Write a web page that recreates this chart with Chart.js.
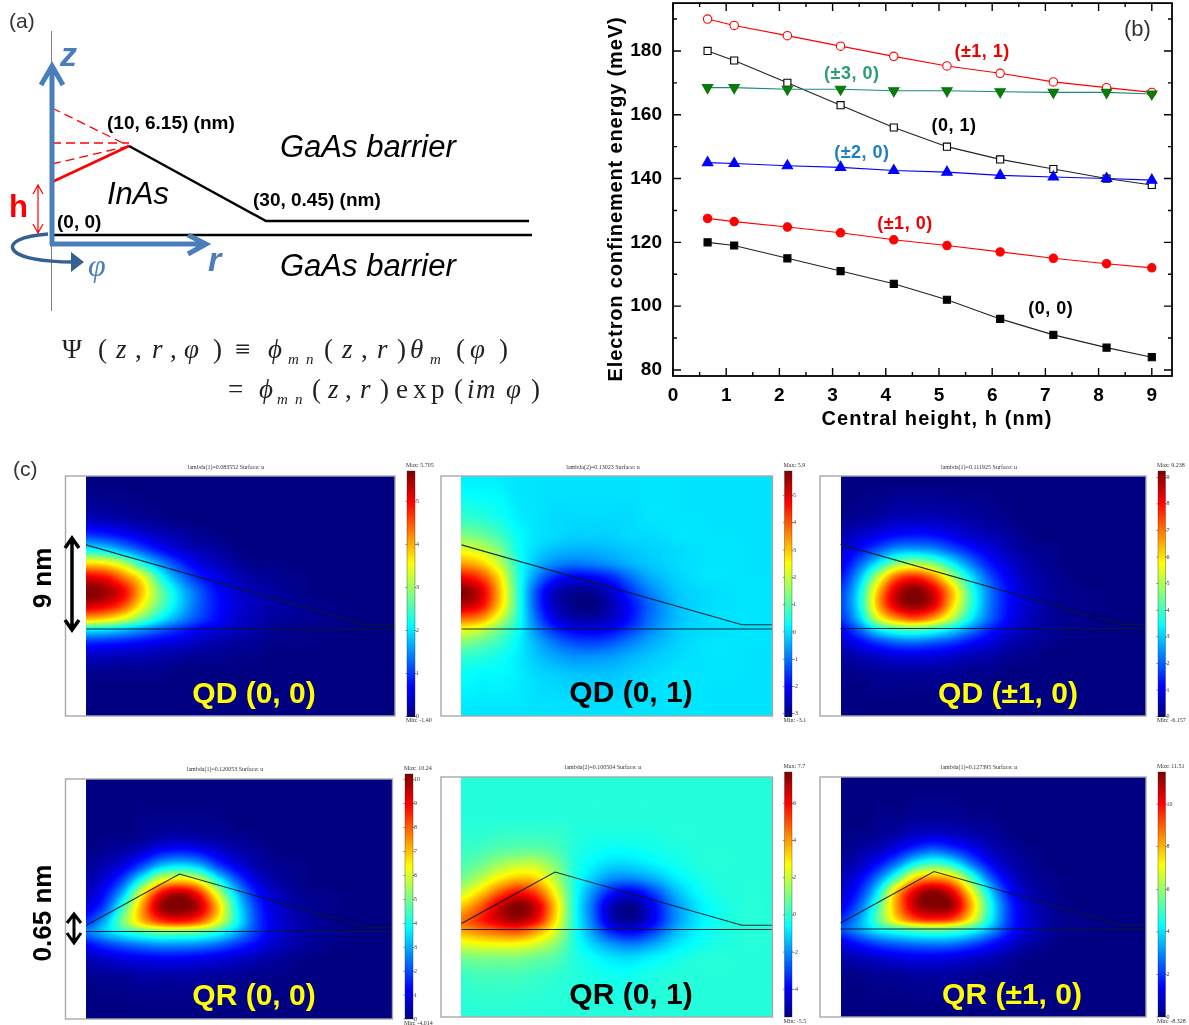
<!DOCTYPE html>
<html>
<head>
<meta charset="utf-8">
<title>Electron confinement energy</title>
<script src="https://cdn.jsdelivr.net/npm/chart.js@4"></script>
<style>
  html, body { margin: 0; padding: 0; background: #fff; }
  #page { position: relative; width: 1189px; height: 1025px; overflow: hidden; }
  canvas { position: absolute; }
  svg { position: absolute; left: 0; top: 0; }
</style>
</head>
<body>
<div id="page">
  <canvas id="energyChart" width="589" height="439" style="left:600px;top:-4px"></canvas>
  <svg width="1189" height="1025" font-family="'Liberation Sans', Arial, sans-serif">
    <text x="9" y="28" font-size="21" fill="#333">(a)</text>
    <line x1="51.5" y1="31" x2="51.5" y2="311" stroke="#808080" stroke-width="1"/>
    <path d="M53 235 H532 M129 146 L266 221 H529" fill="none" stroke="#000" stroke-width="2.4"/>
    <line x1="52" y1="182" x2="129" y2="146" stroke="#f00" stroke-width="2.6"/>
    <path d="M52 108 L129 146 M52 143 H129 M52 164 L129 146" fill="none" stroke="#f00" stroke-width="1.3" stroke-dasharray="9 5"/>
    <path d="M38 185 V233 M33 194 L38 185 L43 194 M33 224 L38 233 L43 224" fill="none" stroke="#f00" stroke-width="1.2"/>
    <path d="M52 245 V68 M41 85 L52 66 L63 85" fill="none" stroke="#4a7ebb" stroke-width="5"/>
    <path d="M50 244 H204 M188 235 L206 244 L188 254" fill="none" stroke="#4a7ebb" stroke-width="5"/>
    <path d="M48 234 C20 236 10 243 13 249 C17 258 45 262 73 262" fill="none" stroke="#366092" stroke-width="3.5"/>
    <path d="M71 252 L84 262 L71 272 Z" fill="#366092"/>
    <text x="60" y="66" font-size="34" font-weight="bold" font-style="italic" fill="#4a7ebb">z</text>
    <text x="208" y="271" font-size="34" font-weight="bold" font-style="italic" fill="#4a7ebb">r</text>
    <text x="88" y="276" font-size="32" font-style="italic" font-family="'Liberation Serif', serif" fill="#4a7ebb">&#966;</text>
    <text x="9" y="217" font-size="31" font-weight="bold" fill="#f00">h</text>
    <text x="57" y="228" font-size="19" font-weight="bold">(0, 0)</text>
    <text x="107" y="129" font-size="19" font-weight="bold">(10, 6.15) (nm)</text>
    <text x="253" y="206" font-size="19" font-weight="bold">(30, 0.45) (nm)</text>
    <text x="280" y="157" font-size="31" font-style="italic">GaAs barrier</text>
    <text x="280" y="276" font-size="31" font-style="italic">GaAs barrier</text>
    <text x="107" y="204" font-size="31" font-style="italic">InAs</text>
    <g id="equation" font-family="'Liberation Serif', serif" fill="#222"></g>
    <text x="13" y="476" font-size="21" fill="#333">(c)</text>
  </svg>
</div>

<script>
// panel (b): series
const heights = [0.65, 1.15, 2.15, 3.15, 4.15, 5.15, 6.15, 7.15, 8.15, 9];
const energyPm1n1 = [190, 188, 184.8, 181.5, 178.3, 175.3, 173, 170.3, 168.5, 167];
const energy0n1 = [180, 177, 170, 163, 156, 150, 146, 143, 140, 138];
const energyPm3n0 = [168.5, 168.5, 168, 168, 167.5, 167.5, 167.2, 167, 167, 166.5];
const energyPm2n0 = [145, 144.7, 144, 143.5, 142.5, 142, 141, 140.5, 140, 139.5];
const energyPm1n0 = [127.5, 126.5, 124.8, 123, 120.8, 119, 117, 115, 113.3, 112];
const energy0n0 = [120, 119, 115, 111, 107, 102, 96, 91, 87, 84];

const xTicks = [0, 1, 2, 3, 4, 5, 6, 7, 8, 9];
const xMinorTicks = [0.5, 1.5, 2.5, 3.5, 4.5, 5.5, 6.5, 7.5, 8.5];
const yTicks = [80, 100, 120, 140, 160, 180];
const yMinorTicks = [90, 110, 130, 150, 170, 190];

const curveNames = ['(\u00b11, 1)', '(\u00b13, 0)', '(0, 1)', '(\u00b12, 0)', '(\u00b11, 0)', '(0, 0)', '(b)'];
const curveNameX = [5.81, 3.36, 5.28, 3.55, 4.36, 7.1, 8.73];
const curveNameY = [179.6, 172.7, 156.5, 148, 125.8, 99, 186.5];
const curveNameColors = ['#f00000', '#2e9e72', '#000', '#1f7fc0', '#f00000', '#000', '#333'];
const xTitle = 'Central height, h (nm)';
const yTitle = 'Electron confinement energy (meV)';

// panel (c): wavefunction maps, values read as percent of each colour bar.
// columns are r in nm, rows are z in nm
const gridR = [0, 2, 4, 6, 8, 10, 12, 14, 16, 18, 20, 23, 26, 30, 33];
const gridZ = [16, 12, 10, 8.5, 7, 5.5, 4, 2.5, 1, 0, -1.5, -3, -5, -9.5];

const mapQD00 = [
  [0,0,0,0,0,0,0,0,0,0,0,0,0,0,0],
  [5,4,3,2,1,0,0,0,0,0,0,0,0,0,0],
  [18,16,13,9,6,4,2,1,0,0,0,0,0,0,0],
  [38,35,28,20,13,8,5,3,1,0,0,0,0,0,0],
  [66,64,56,40,27,17,10,6,3,1,1,0,0,0,0],
  [90,87,76,62,40,26,16,10,6,3,2,1,0,0,0],
  [100,97,88,68,48,33,22,13,8,5,3,1,0,0,0],
  [92,89,80,62,46,33,22,14,9,6,4,2,1,0,0],
  [68,65,58,47,36,27,19,13,8,5,3,2,1,0,0],
  [38,37,33,28,22,17,12,9,6,4,2,1,1,0,0],
  [16,15,14,12,10,8,6,4,3,2,1,1,0,0,0],
  [6,6,5,5,4,3,2,2,1,1,0,0,0,0,0],
  [1,1,1,1,1,0,0,0,0,0,0,0,0,0,0],
  [0,0,0,0,0,0,0,0,0,0,0,0,0,0,0]
];
const mapQD01 = [
  [36,36,36,35,35,35,35,35,35,35,35,35,35,35,35],
  [42,41,39,36,35,34,34,34,34,34,35,35,35,35,35],
  [50,48,44,38,35,34,33,33,33,34,34,35,35,35,35],
  [60,57,50,39,34,31,30,30,31,32,33,34,35,35,35],
  [72,68,57,41,31,26,24,25,27,30,32,34,35,35,35],
  [88,82,66,42,26,15,11,12,16,23,29,33,35,35,35],
  [100,92,70,43,20,6,2,2,8,17,25,32,34,35,35],
  [94,88,68,43,20,6,1,0,5,13,22,31,34,35,35],
  [76,72,58,41,23,10,5,4,7,14,23,31,34,35,35],
  [62,58,49,39,26,16,11,10,12,18,25,32,34,35,35],
  [50,47,43,37,30,24,20,19,21,25,29,33,35,35,35],
  [42,41,39,36,32,29,27,27,28,30,32,34,35,35,35],
  [38,37,37,36,34,33,32,32,32,33,34,35,35,35,35],
  [35,35,35,35,35,35,35,35,35,35,35,35,35,35,35]
];
const mapQDPm10 = [
  [0,0,0,0,0,0,0,0,0,0,0,0,0,0,0],
  [1,2,3,5,5,5,4,3,2,1,0,0,0,0,0],
  [4,7,10,13,14,13,10,7,5,3,1,0,0,0,0],
  [7,13,20,27,28,26,20,14,9,5,2,1,0,0,0],
  [10,21,36,50,54,48,36,24,14,8,4,1,0,0,0],
  [14,30,56,78,84,74,54,35,20,11,5,2,0,0,0],
  [18,36,68,92,100,90,68,42,24,13,6,2,1,0,0],
  [19,37,70,92,98,90,66,42,24,13,7,2,1,0,0],
  [17,32,58,72,78,70,54,36,22,12,6,2,1,0,0],
  [12,23,38,46,48,44,36,26,16,9,5,2,1,0,0],
  [7,12,18,22,23,21,18,13,9,5,3,1,0,0,0],
  [3,5,7,9,9,9,7,5,4,2,1,0,0,0,0],
  [1,1,2,2,2,2,2,1,1,0,0,0,0,0,0],
  [0,0,0,0,0,0,0,0,0,0,0,0,0,0,0]
];
const mapQR00 = [
  [0,0,0,0,0,0,0,0,0,0,0,0,0,0,0],
  [0,0,0,1,1,1,1,1,0,0,0,0,0,0,0],
  [0,1,1,2,4,5,4,3,2,1,0,0,0,0,0],
  [1,2,4,8,14,16,14,9,5,3,1,0,0,0,0],
  [2,5,10,20,32,36,32,20,11,5,2,1,0,0,0],
  [4,9,20,40,60,66,60,40,22,10,4,1,0,0,0],
  [6,14,32,62,88,96,86,60,34,16,7,2,1,0,0],
  [10,20,44,72,96,100,94,70,40,20,9,3,1,0,0],
  [17,30,50,68,80,84,78,62,40,21,10,4,1,0,0],
  [24,32,40,46,50,50,48,42,31,19,10,4,2,0,0],
  [12,17,21,24,26,26,25,22,17,12,7,3,1,0,0],
  [5,7,9,10,11,11,10,9,7,5,3,1,0,0,0],
  [1,2,2,3,3,3,3,2,2,1,1,0,0,0,0],
  [0,0,0,0,0,0,0,0,0,0,0,0,0,0,0]
];
const mapQR01 = [
  [41,41,41,41,41,41,41,41,41,41,41,41,41,41,41],
  [41,41,41,41,41,41,41,41,41,41,41,41,41,41,41],
  [42,42,43,43,43,43,41,40,40,40,40,41,41,41,41],
  [43,44,46,47,47,45,41,39,38,38,39,40,41,41,41],
  [45,48,53,56,56,50,41,37,34,34,36,39,41,41,41],
  [49,55,63,68,66,55,41,33,27,26,29,36,40,41,41],
  [57,66,78,86,80,62,41,27,15,11,17,31,39,41,41],
  [68,78,92,100,92,68,41,23,6,1,9,27,37,41,41],
  [76,84,92,96,88,66,41,24,7,2,9,27,37,41,41],
  [72,76,80,82,74,60,41,27,14,10,15,30,38,41,41],
  [60,62,63,63,59,52,41,33,27,24,27,35,39,41,41],
  [49,50,50,50,48,46,41,38,35,34,36,39,41,41,41],
  [43,44,44,44,43,42,41,40,39,39,40,41,41,41,41],
  [41,41,41,41,41,41,41,41,41,41,41,41,41,41,41]
];
const mapQRPm10 = [
  [0,0,0,0,0,0,0,0,0,0,0,0,0,0,0],
  [0,0,1,1,2,2,2,1,1,0,0,0,0,0,0],
  [1,1,2,4,7,8,7,5,3,1,0,0,0,0,0],
  [1,3,6,11,18,22,18,12,6,3,1,0,0,0,0],
  [3,6,13,24,38,44,38,24,12,5,2,0,0,0,0],
  [5,11,24,44,66,72,66,44,22,9,3,1,0,0,0],
  [7,16,36,68,90,98,88,62,34,14,5,1,0,0,0],
  [10,22,44,72,94,100,96,70,40,18,7,2,0,0,0],
  [16,28,46,66,80,84,80,62,38,18,8,2,1,0,0],
  [20,28,38,44,48,50,48,42,30,16,8,2,1,0,0],
  [10,15,20,23,25,26,25,21,15,9,4,1,0,0,0],
  [4,6,8,10,11,11,10,8,6,3,1,0,0,0,0],
  [1,1,2,2,3,3,3,2,1,1,0,0,0,0,0],
  [0,0,0,0,0,0,0,0,0,0,0,0,0,0,0]
];

// dot and ring outlines in nm
const dotR = [0, 30, 36];
const dotZ = [9, 0.45, 0.45];
const ringR = [0, 10, 30, 36];
const ringZ = [0.65, 6.15, 0.45, 0.45];
const baseR = [0, 36];
const baseZ = [0, 0];

const mapTitles = ['QD (0, 0)', 'QD (0, 1)', 'QD (\u00b11, 0)', 'QR (0, 0)', 'QR (0, 1)', 'QR (\u00b11, 0)'];
const mapCaptions = ['lambda(1)=0.083552 Surface: u', 'lambda(2)=0.13023 Surface: u', 'lambda(1)=0.111925 Surface: u',
  'lambda(1)=0.120053 Surface: u', 'lambda(2)=0.100504 Surface: u', 'lambda(1)=0.127395 Surface: u'];
const barLow = [0, -3.1, 0, 0, -5.5, 0];
const barHigh = [5.7, 5.9, 9.238, 10.24, 7.7, 11.51];
const barTicks = [
  [0, 1, 2, 3, 4, 5],
  [-3, -2, -1, 0, 1, 2, 3, 4, 5],
  [0, 1, 2, 3, 4, 5, 6, 7, 8, 9],
  [0, 1, 2, 3, 4, 5, 6, 7, 8, 9, 10],
  [-4, -2, 0, 2, 4, 6],
  [0, 2, 4, 6, 8, 10]
];
const barMaxText = ['Max: 5.705', 'Max: 5.9', 'Max: 9.238', 'Max: 10.24', 'Max: 7.7', 'Max: 11.51'];
const barMinText = ['Min: -1.40', 'Min: -3.1', 'Min: -6.157', 'Min: -4.014', 'Min: -5.5', 'Min: -8.328'];
const maps = [mapQD00, mapQD01, mapQDPm10, mapQR00, mapQR01, mapQRPm10];

// page layout of the six maps (pixels)
const pxPerNm = 9.35;
const mapBoxes = [
  { strip: 65.5, left: 86, right: 395, top: 476, bottom: 716, line: 629, barL: 407, barR: 415, barT: 471, barB: 716.5, capX: 226, capY: 467, titleX: 254, titleY: 703, titleColor: '#ffff00' },
  { strip: 441, left: 461.5, right: 772.5, top: 476, bottom: 716, line: 629, barL: 784.5, barR: 792, barT: 471, barB: 716.5, capX: 603, capY: 467, titleX: 631, titleY: 702, titleColor: '#000' },
  { strip: 820, left: 840.5, right: 1146, top: 476, bottom: 716, line: 628.5, barL: 1158, barR: 1165.5, barT: 471, barB: 716.5, capX: 979, capY: 467, titleX: 1008, titleY: 703, titleColor: '#ffff00' },
  { strip: 65.5, left: 86, right: 392.5, top: 779, bottom: 1019, line: 931.5, barL: 405, barR: 413, barT: 774, barB: 1019, capX: 225, capY: 769, titleX: 254, titleY: 1005, titleColor: '#ffff00' },
  { strip: 441, left: 461.5, right: 772.5, top: 777, bottom: 1017, line: 929.5, barL: 784.5, barR: 792, barT: 772, barB: 1017, capX: 603, capY: 767, titleX: 631, titleY: 1004, titleColor: '#000' },
  { strip: 820, left: 840.5, right: 1146, top: 777, bottom: 1017, line: 929, barL: 1158, barR: 1165.5, barT: 772, barB: 1017, capX: 979, capY: 767, titleX: 1012, titleY: 1004, titleColor: '#ffff00' }
];

// equation glyphs: text, x, baseline, size, italic
const eqGlyphs = [
  ['\u03a8', 62, 358, 27, 0], ['(', 98, 358, 27, 0], ['z', 116, 358, 27, 1], [',', 135, 358, 27, 0], ['r', 152, 358, 27, 1],
  [',', 170, 358, 27, 0], ['\u03c6', 184, 358, 27, 1], [')', 213, 358, 27, 0], ['\u2261', 235, 358, 27, 0], ['\u03d5', 268, 358, 27, 1],
  ['m', 288, 364, 15, 1], ['n', 306, 364, 15, 1], ['(', 324, 358, 27, 0], ['z', 342, 358, 27, 1], [',', 361, 358, 27, 0],
  ['r', 377, 358, 27, 1], [')', 397, 358, 27, 0], ['\u03b8', 410, 358, 27, 1], ['m', 430, 364, 15, 1], ['(', 456, 358, 27, 0],
  ['\u03c6', 470, 358, 27, 1], [')', 499, 358, 27, 0],
  ['=', 228, 398, 27, 0], ['\u03d5', 259, 398, 27, 1], ['m', 277, 404, 15, 1], ['n', 295, 404, 15, 1], ['(', 312, 398, 27, 0],
  ['z', 328, 398, 27, 1], [',', 345, 398, 27, 0], ['r', 360, 398, 27, 1], [')', 380, 398, 27, 0], ['e', 396, 398, 27, 0],
  ['x', 413, 398, 27, 0], ['p', 431, 398, 27, 0], ['(', 454, 398, 27, 0], ['i', 467, 398, 27, 1], ['m', 476, 398, 27, 1],
  ['\u03c6', 506, 398, 27, 1], [')', 531, 398, 27, 0]
];

const svgNS = 'http://www.w3.org/2000/svg';
function addSvg(parent, tag, attrs, text) {
  const el = document.createElementNS(svgNS, tag);
  Object.keys(attrs).forEach(k => el.setAttribute(k, attrs[k]));
  if (text) el.textContent = text;
  parent.appendChild(el);
  return el;
}

const eqGroup = document.getElementById('equation');
eqGlyphs.forEach(g => {
  addSvg(eqGroup, 'text', { x: g[1], y: g[2], 'font-size': g[3], 'font-style': g[4] ? 'italic' : 'normal' }, g[0]);
});

// ---- panel (b) ----
const sansFont = '"Liberation Sans", Arial, sans-serif';
const curveLabels = {
  id: 'curveLabels',
  afterDraw(chart) {
    const { ctx, scales: { x, y }, chartArea: a } = chart;
    ctx.save();
    ctx.strokeStyle = '#000';
    ctx.lineWidth = 1.8;
    ctx.strokeRect(a.left, a.top, a.right - a.left, a.bottom - a.top);
    // ticks point inward on all four sides
    ctx.beginPath();
    function vTicks(list, len) {
      list.forEach(v => {
        const p = x.getPixelForValue(v);
        ctx.moveTo(p, a.bottom); ctx.lineTo(p, a.bottom - len);
        ctx.moveTo(p, a.top); ctx.lineTo(p, a.top + len);
      });
    }
    function hTicks(list, len) {
      list.forEach(v => {
        const p = y.getPixelForValue(v);
        ctx.moveTo(a.left, p); ctx.lineTo(a.left + len, p);
        ctx.moveTo(a.right, p); ctx.lineTo(a.right - len, p);
      });
    }
    vTicks(xTicks, 8); vTicks(xMinorTicks, 4);
    hTicks(yTicks, 8); hTicks(yMinorTicks, 4);
    ctx.lineWidth = 1.4;
    ctx.stroke();

    ctx.textAlign = 'center';
    ctx.textBaseline = 'middle';
    curveNames.forEach((name, i) => {
      ctx.font = (name === '(b)' ? '22px ' : 'bold 18px ') + sansFont;
      ctx.letterSpacing = name === '(b)' ? '0px' : '0.5px';
      ctx.fillStyle = curveNameColors[i];
      ctx.fillText(name, x.getPixelForValue(curveNameX[i]), y.getPixelForValue(curveNameY[i]));
    });

    // axis titles are letter-spaced in the original
    ctx.fillStyle = '#000';
    ctx.font = 'bold 20px ' + sansFont;
    ctx.textBaseline = 'alphabetic';
    ctx.letterSpacing = '1.1px';
    ctx.fillText(xTitle, 337, 429);
    ctx.letterSpacing = '0.85px';
    ctx.translate(22, 203);
    ctx.rotate(-Math.PI / 2);
    ctx.fillText(yTitle, 0, 0);
    ctx.restore();
  }
};

function curve(values, lineColor, pointColor, fill, style, radius, rotation) {
  return {
    data: heights.map((h, i) => ({ x: h, y: values[i] })),
    showLine: true,
    borderColor: lineColor,
    borderWidth: 1.1,
    pointStyle: style,
    pointRadius: radius,
    pointRotation: rotation || 0,
    pointBackgroundColor: fill,
    pointBorderColor: pointColor,
    pointBorderWidth: 1.1
  };
}

new Chart(document.getElementById('energyChart'), {
  type: 'scatter',
  data: {
    datasets: [
      curve(energyPm3n0, '#1a8a80', '#0a7a0a', '#0a7a0a', 'triangle', 6, 180),
      curve(energyPm2n0, '#0000ff', '#0000ff', '#0000ff', 'triangle', 6),
      curve(energy0n1, '#222', '#000', '#fff', 'rect', 5),
      curve(energyPm1n1, '#f00', '#f00', '#fff', 'circle', 4.2),
      curve(energyPm1n0, '#f00', '#f00', '#f00', 'circle', 4.2),
      curve(energy0n0, '#222', '#000', '#000', 'rect', 5)
    ]
  },
  options: {
    responsive: false,
    animation: false,
    layout: { padding: { top: 0, right: 17 } },
    plugins: { legend: { display: false }, tooltip: { enabled: false } },
    scales: {
      x: {
        type: 'linear', min: 0, max: 9.38,
        afterBuildTicks: s => { s.ticks = xTicks.map(v => ({ value: v })); },
        afterFit: s => { s.height = 59; s.paddingLeft = 0; s.paddingRight = 0; },
        grid: { display: false },
        border: { display: false },
        ticks: { color: '#000', padding: 0, maxRotation: 0, font: { family: sansFont, size: 19, weight: 'bold' } }
      },
      y: {
        type: 'linear', min: 78.1, max: 195,
        afterBuildTicks: s => { s.ticks = yTicks.map(v => ({ value: v })); },
        afterFit: s => { s.width = 73; s.paddingTop = 0; s.paddingBottom = 0; },
        grid: { display: false },
        border: { display: false },
        ticks: { color: '#000', padding: 3, font: { family: sansFont, size: 19, weight: 'bold' } }
      }
    }
  },
  plugins: [curveLabels]
});

// ---- panel (c) ----
function jet(t) {
  const c = v => Math.round(255 * Math.min(1, Math.max(0, v)));
  return [c(1.5 - Math.abs(4 * t - 3)), c(1.5 - Math.abs(4 * t - 2)), c(1.5 - Math.abs(4 * t - 1))];
}

// fractional position of v in an ascending or descending list
function gridPos(list, v) {
  const sign = list[1] > list[0] ? 1 : -1;
  for (let i = 0; i < list.length - 1; i++) {
    if (sign * v <= sign * list[i + 1]) return i + (v - list[i]) / (list[i + 1] - list[i]);
  }
  return list.length - 1;
}

function cubic(a, b, c, d, t) {
  return b + 0.5 * t * (c - a + t * (2 * a - 5 * b + 4 * c - d + t * (3 * (b - c) + d - a)));
}

// bicubic shading of the cell values, like imshow with interpolation on
function shade(map, r, z) {
  const px = Math.max(0, gridPos(gridR, r));
  const py = Math.max(0, gridPos(gridZ, z));
  const ci = Math.floor(px), ri = Math.floor(py);
  const at = (j, i) => map[Math.min(gridZ.length - 1, Math.max(0, j))][Math.min(gridR.length - 1, Math.max(0, i))];
  const row = j => cubic(at(j, ci - 1), at(j, ci), at(j, ci + 1), at(j, ci + 2), px - ci);
  return cubic(row(ri - 1), row(ri), row(ri + 1), row(ri + 2), py - ri);
}

const heatmapPlugin = {
  id: 'heatmap',
  beforeDatasetsDraw(chart, args, opts) {
    const { ctx, scales: { x, y }, chartArea: a } = chart;
    const i = opts.index;
    ctx.save();
    ctx.fillStyle = '#fff';
    ctx.fillRect(a.left, a.top, a.right - a.left, a.bottom - a.top);
    const x0 = Math.round(x.getPixelForValue(0));
    const w = Math.round(a.right) - x0, h = Math.round(a.bottom) - Math.round(a.top);
    const off = document.createElement('canvas');
    off.width = w; off.height = h;
    const octx = off.getContext('2d');
    const img = octx.createImageData(w, h);
    for (let py = 0; py < h; py++) {
      const z = y.getValueForPixel(a.top + py + 0.5);
      for (let px = 0; px < w; px++) {
        const r = x.getValueForPixel(x0 + px + 0.5);
        const v = Math.min(100, Math.max(0, shade(maps[i], r, z)));
        const col = jet(v / 100);
        const k = (py * w + px) * 4;
        img.data[k] = col[0]; img.data[k + 1] = col[1]; img.data[k + 2] = col[2]; img.data[k + 3] = 255;
      }
    }
    octx.putImageData(img, 0, 0);
    ctx.drawImage(off, x0, Math.round(a.top));
    ctx.restore();
  },
  afterDraw(chart, args, opts) {
    const { ctx, chartArea: a } = chart;
    const i = opts.index;
    const box = mapBoxes[i];
    const ox = opts.originX, oy = opts.originY;
    ctx.save();
    // frame of the map, grey round the white strip
    ctx.strokeStyle = '#a8a8a8';
    ctx.lineWidth = 1.4;
    ctx.strokeRect(a.left, a.top, a.right - a.left, a.bottom - a.top);

    // colour bar
    const bt = box.barT - oy, bb = box.barB - oy, bl = box.barL - ox, bw = box.barR - box.barL;
    for (let p = 0; p < Math.ceil(bb - bt); p++) {
      const col = jet(1 - p / (bb - bt));
      ctx.fillStyle = 'rgb(' + col.join(',') + ')';
      ctx.fillRect(bl, bt + p, bw, 1);
    }
    ctx.strokeStyle = 'rgba(40,40,40,0.6)';
    ctx.lineWidth = 0.6;
    ctx.strokeRect(bl, bt, bw, bb - bt);

    ctx.fillStyle = '#333';
    ctx.font = '6px "Liberation Serif", serif';
    ctx.textBaseline = 'middle';
    ctx.textAlign = 'left';
    barTicks[i].forEach(t => {
      const p = bb - (t - barLow[i]) / (barHigh[i] - barLow[i]) * (bb - bt);
      ctx.fillRect(bl - 1.5, p - 0.3, 1.5, 0.6);
      ctx.fillRect(bl + bw, p - 0.3, 1.5, 0.6);
      ctx.fillText(String(t), bl + bw + 1, p);
    });
    ctx.fillText(barMaxText[i], bl - 1, bt - 5.5);
    ctx.fillText(barMinText[i], bl - 1, bb + 4);

    ctx.textAlign = 'center';
    ctx.fillText(mapCaptions[i], box.capX - ox, box.capY - oy);

    ctx.font = 'bold 30px ' + sansFont;
    ctx.textBaseline = 'alphabetic';
    ctx.fillStyle = box.titleColor;
    ctx.fillText(mapTitles[i], box.titleX - ox, box.titleY - oy);
    ctx.restore();
  }
};

const page = document.getElementById('page');
mapBoxes.forEach((box, i) => {
  const originX = Math.floor(box.strip) - 4;
  const originY = box.capY - 8;
  const width = Math.ceil(box.barR) + 30 - originX;
  const height = box.bottom + 12 - originY;
  const canvas = document.createElement('canvas');
  canvas.width = width;
  canvas.height = height;
  canvas.style.left = originX + 'px';
  canvas.style.top = originY + 'px';
  page.insertBefore(canvas, page.querySelector('svg'));

  const isDot = i < 3;
  const topR = isDot ? dotR : ringR;
  const topZ = isDot ? dotZ : ringZ;
  const lineStyle = { showLine: true, borderColor: 'rgba(10,25,40,0.9)', borderWidth: 1.1, pointRadius: 0 };

  new Chart(canvas, {
    type: 'scatter',
    data: {
      datasets: [
        Object.assign({ data: topR.map((r, k) => ({ x: r, y: topZ[k] })) }, lineStyle),
        Object.assign({ data: baseR.map((r, k) => ({ x: r, y: baseZ[k] })) }, lineStyle)
      ]
    },
    options: {
      responsive: false,
      animation: false,
      layout: {
        padding: {
          left: box.strip - originX,
          top: box.top - originY,
          right: originX + width - box.right,
          bottom: originY + height - box.bottom
        }
      },
      plugins: {
        legend: { display: false },
        tooltip: { enabled: false },
        heatmap: { index: i, originX: originX, originY: originY }
      },
      scales: {
        x: { type: 'linear', display: false, min: (box.strip - box.left) / pxPerNm, max: (box.right - box.left) / pxPerNm },
        y: { type: 'linear', display: false, min: (box.line - box.bottom) / pxPerNm, max: (box.line - box.top) / pxPerNm }
      }
    },
    plugins: [heatmapPlugin]
  });
});

// side labels drawn above the maps
const svg = document.querySelector('svg');
function sideLabel(text, cy) {
  addSvg(svg, 'text', { transform: 'translate(51,' + cy + ') rotate(-90)', 'text-anchor': 'middle', 'font-size': 26, 'font-weight': 'bold' }, text);
}
sideLabel('9 nm', 578);
sideLabel('0.65 nm', 913);
addSvg(svg, 'path', { d: 'M72 539 V628 M65 548 L72 538 L79 548 M65 620 L72 630 L79 620', fill: 'none', stroke: '#000', 'stroke-width': 3.5 });
addSvg(svg, 'path', { d: 'M74 915 V941 M67 923 L74 914 L81 923 M67 933 L74 943 L81 933', fill: 'none', stroke: '#000', 'stroke-width': 3 });
</script>
</body>
</html>
